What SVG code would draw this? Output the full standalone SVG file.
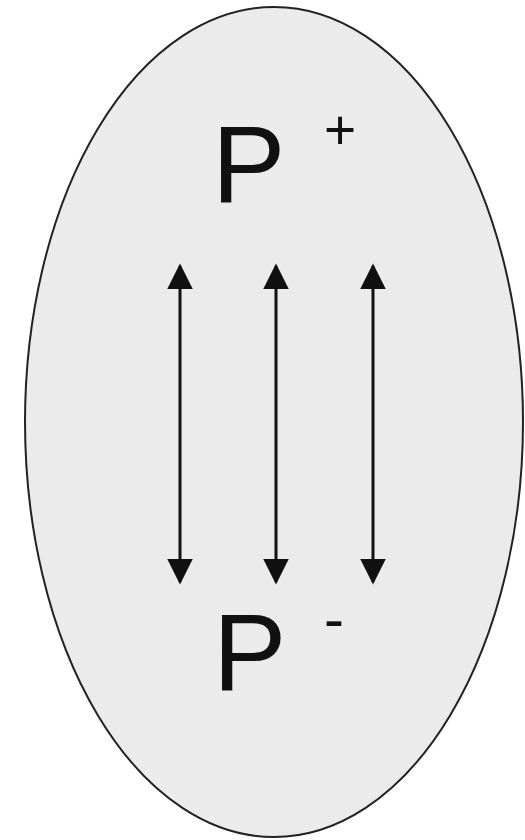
<svg xmlns="http://www.w3.org/2000/svg" width="525" height="840" viewBox="0 0 525 840">
<style>
.lbl{font-family:"Liberation Sans",Arial,sans-serif;fill:#111}
.arr{stroke:#111;stroke-width:3;fill:none;marker-start:url(#ah);marker-end:url(#ah)}
</style>
<defs>
<marker id="ah" viewBox="0 0 10 10" refX="9" refY="5" markerWidth="8.5" markerHeight="8.5" markerUnits="strokeWidth" orient="auto-start-reverse">
<path d="M0,0 L10,5 L0,10 z" fill="#111"/>
</marker>
</defs>
<rect width="525" height="840" fill="#fff"/>
<g id="cell">
<ellipse cx="274" cy="422" rx="249" ry="415" fill="#ebebeb" stroke="#222" stroke-width="2"/>
</g>
<g id="p-plus">
<text class="lbl" x="212" y="202" font-size="110">P</text>
<text class="lbl" x="324" y="149" font-size="55">+</text>
</g>
<g id="p-minus">
<text class="lbl" x="213" y="690" font-size="110">P</text>
<text class="lbl" x="324" y="639" font-size="60">-</text>
</g>
<g id="connectors">
<line class="arr" x1="180" y1="266" x2="180" y2="582"/>
<line class="arr" x1="276" y1="266" x2="276" y2="582"/>
<line class="arr" x1="373" y1="266" x2="373" y2="582"/>
</g>
</svg>
